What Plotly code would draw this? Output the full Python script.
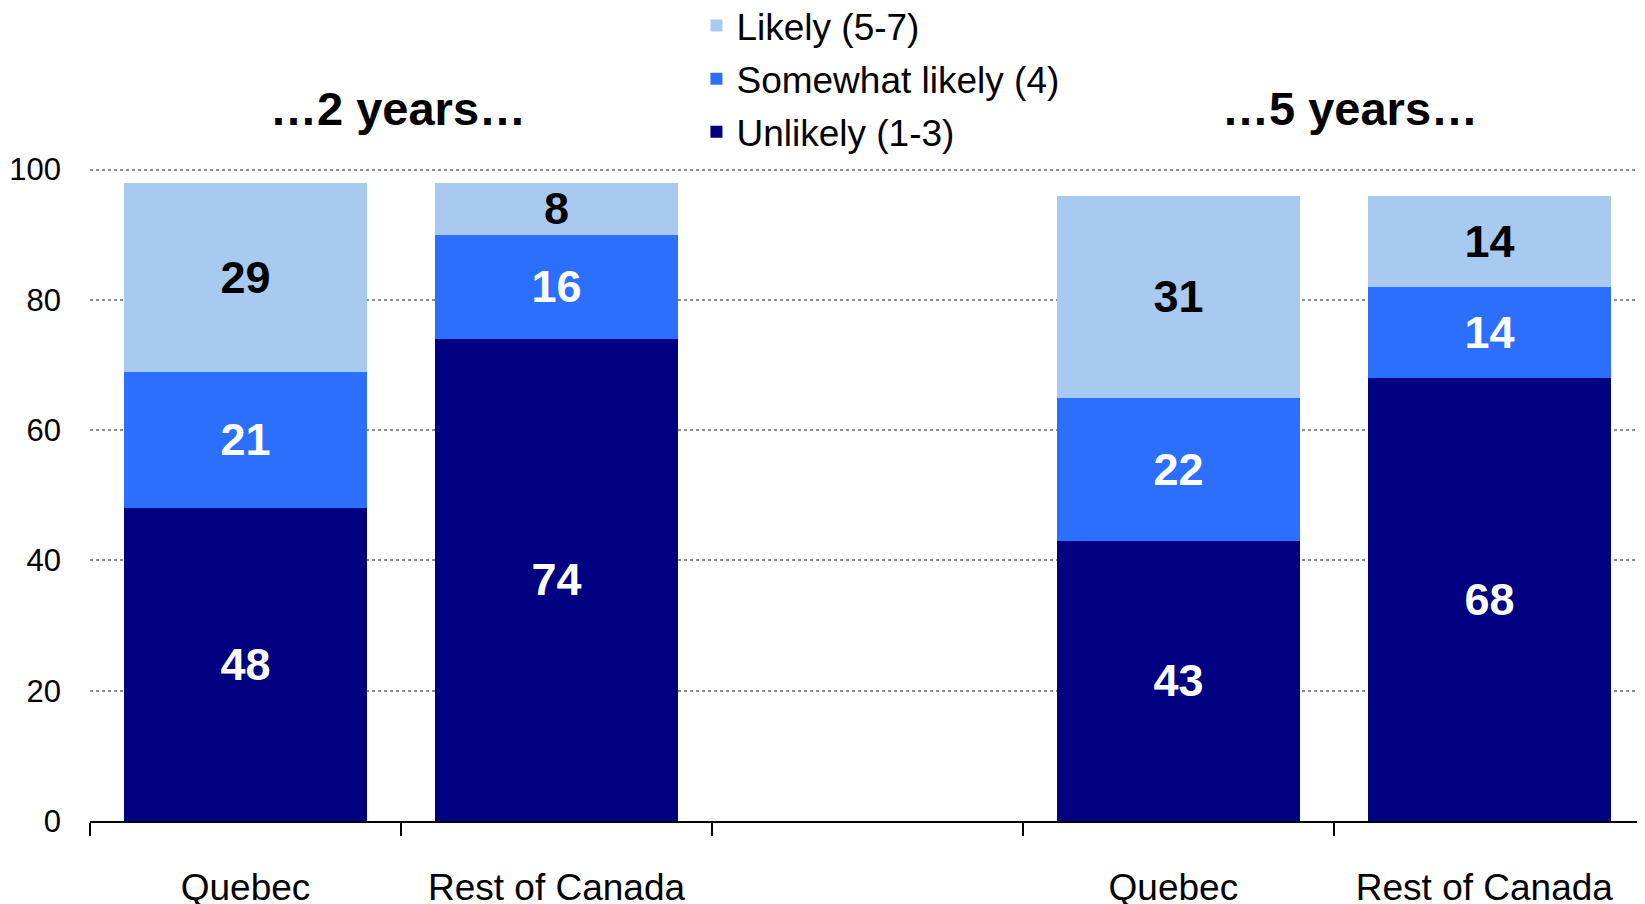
import plotly.graph_objects as go

# categories (blank slot separates the two periods)
categories = ["Quebec", "Rest of Canada", " ", "Quebec ", "Rest of Canada "]
unlikely = [48, 74, None, 43, 68]
somewhat = [21, 16, None, 22, 14]
likely = [29, 8, None, 31, 14]
period_titles = ["\u20262 years\u2026", "\u20265 years\u2026"]

LIGHT = "#A8CAF0"
MID = "#2B6FFC"
DARK = "#000080"
FONT = "Liberation Sans, Arial, sans-serif"

# page body adds an 8px margin, so the figure is 8px smaller to fit the window
W, H = 1637, 896
PLOT_TOP, PLOT_BOTTOM = 159, 813
plot_h = PLOT_BOTTOM - PLOT_TOP

fig = go.Figure()

series = [
    ("Unlikely (1-3)", unlikely, DARK, "white", 3),
    ("Somewhat likely (4)", somewhat, MID, "white", 2),
    ("Likely (5-7)", likely, LIGHT, "black", 1),
]
for name, vals, color, txtcol, rank in series:
    fig.add_trace(go.Bar(
        x=categories, y=vals, name=name, legendgroup=name, legendrank=rank,
        marker=dict(color=color, line=dict(width=0)),
        texttemplate="%{y}", textposition="inside", insidetextanchor="middle",
        textangle=0, constraintext="none",
        textfont=dict(family=FONT, size=45, color=txtcol, weight="bold"),
    ))

title_y = (PLOT_BOTTOM - 100) / plot_h
for xpos, title in zip([0.49, 3.55], period_titles):
    fig.add_annotation(
        x=xpos, xref="x", y=title_y, yref="paper", yanchor="middle",
        text=f"<b>{title}</b>", showarrow=False,
        font=dict(family=FONT, size=47, color="black"),
    )

fig.update_layout(
    width=W, height=H,
    barmode="stack", bargap=0.22,
    paper_bgcolor="white", plot_bgcolor="white",
    font=dict(family=FONT, color="black"),
    margin=dict(l=82, r=0, t=PLOT_TOP, b=H - PLOT_BOTTOM, autoexpand=False),
    showlegend=True,
    legend=dict(
        x=0.390, y=(PLOT_BOTTOM + 13) / plot_h,
        xanchor="left", yanchor="top",
        traceorder="grouped", tracegroupgap=2,
        font=dict(family=FONT, size=37, color="black"),
        bgcolor="rgba(0,0,0,0)",
    ),
    xaxis=dict(
        type="category", tickson="boundaries", ticks="outside", ticklen=13,
        tickwidth=1.5, tickcolor="black", showline=True, linecolor="black",
        linewidth=1.5, showgrid=False, ticklabelstandoff=33, tickangle=0,
        tickfont=dict(family=FONT, size=37, color="black"),
        range=[-0.5, 4.5], automargin=False,
    ),
    yaxis=dict(
        range=[0, 100.4], tickvals=[0, 20, 40, 60, 80, 100],
        showgrid=True, gridcolor="#8C8C8C", griddash="dot", gridwidth=1.5,
        showline=False, zeroline=False, ticks="", ticklabelstandoff=28,
        tickfont=dict(family=FONT, size=31, color="black"), automargin=False,
    ),
)

fig.write_html("out.html")
